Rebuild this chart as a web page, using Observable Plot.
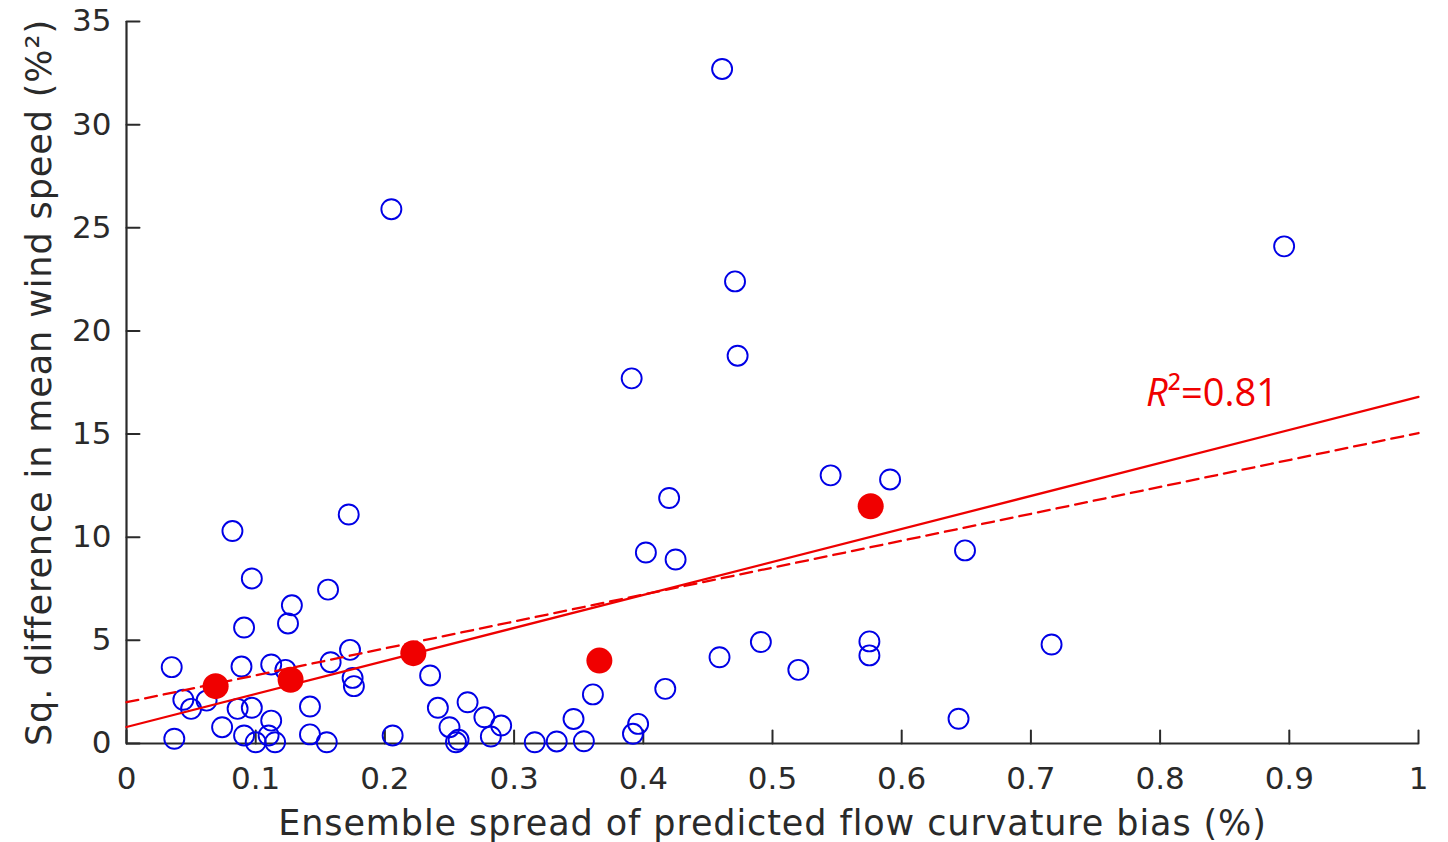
<!DOCTYPE html>
<html>
<head>
<meta charset="utf-8">
<script src="https://cdn.jsdelivr.net/npm/d3@7"></script>
<script src="https://cdn.jsdelivr.net/npm/@observablehq/plot@0.6"></script>
<style>
  html, body { margin: 0; padding: 0; background: #fff; }
  #chart { width: 1448px; height: 842px; }
  #chart g[aria-label="x-axis label"] text,
  #chart g[aria-label="y-axis label"] text { letter-spacing: 0.9px; }
</style>
</head>
<body>
<div id="chart"></div>
<script>
// ---- Data ----
// Blue open circles: individual members
const memberSpread = [
  0.461, 0.205, 0.896, 0.471, 0.473, 0.391, 0.545, 0.591, 0.420, 0.172,
  0.082, 0.649, 0.402, 0.425, 0.097, 0.156, 0.128, 0.125, 0.091, 0.491,
  0.716, 0.575, 0.173, 0.575, 0.459, 0.520, 0.035, 0.089, 0.112, 0.158,
  0.123, 0.175, 0.176, 0.235, 0.417, 0.361, 0.264, 0.044, 0.050, 0.062,
  0.086, 0.097, 0.142, 0.241, 0.112, 0.074, 0.277, 0.250, 0.290, 0.346,
  0.396, 0.392, 0.644, 0.037, 0.091, 0.100, 0.110, 0.115, 0.142, 0.155,
  0.206, 0.257, 0.255, 0.282, 0.316, 0.333, 0.354
];
const memberSqDiff = [
  32.7, 25.9, 24.1, 22.4, 18.8, 17.7, 13.0, 12.8, 11.9, 11.1,
  10.3, 9.36, 9.26, 8.92, 8.0, 7.46, 6.7, 5.82, 5.62, 4.92,
  4.80, 4.95, 4.54, 4.27, 4.18, 3.57, 3.70, 3.73, 3.83, 3.94,
  3.57, 3.18, 2.78, 3.30, 2.65, 2.38, 2.0, 2.12, 1.68, 2.08,
  1.68, 1.73, 1.79, 1.73, 1.11, 0.79, 1.27, 0.79, 0.87, 1.19,
  0.95, 0.47, 1.2, 0.23, 0.39, 0.06, 0.39, 0.06, 0.44, 0.06,
  0.39, 0.18, 0.06, 0.34, 0.06, 0.10, 0.11
];
// Red filled dots: binned means
const binSpread = [0.069, 0.127, 0.222, 0.366, 0.576];
const binSqDiff = [2.78, 3.09, 4.38, 4.02, 11.5];
// Regression lines (end points)
const fitX = [0, 1];
const fitSolidY = [0.8, 16.8];
const fitDashedY = [2.0, 15.05];
// Annotation
const r2Symbol = "R";
const r2Rest = "\u00B2=0.81";
const r2At = {x: 0.806, y: 16.95};
// Ticks
const xTicks = [0, 0.1, 0.2, 0.3, 0.4, 0.5, 0.6, 0.7, 0.8, 0.9, 1];
const yTicks = [0, 5, 10, 15, 20, 25, 30, 35];
const xTickLabels = ["0", "0.1", "0.2", "0.3", "0.4", "0.5", "0.6", "0.7", "0.8", "0.9", "1"];
const xLabel = "Ensemble spread of predicted flow curvature bias (%)";
const yLabel = "Sq. difference in mean wind speed (%\u00B2)";

// ---- Tables built from the arrays ----
const members = memberSpread.map((x, i) => ({x, y: memberSqDiff[i]}));
const bins = binSpread.map((x, i) => ({x, y: binSqDiff[i]}));
const fitSolid = fitX.map((x, i) => ({x, y: fitSolidY[i]}));
const fitDashed = fitX.map((x, i) => ({x, y: fitDashedY[i]}));

const axisColor = "#2a2a2a";
const tickShape = {
  draw(context, l) { context.moveTo(0, 0); context.lineTo(0, -l); }
};

const chart = Plot.plot({
  width: 1448,
  height: 842,
  marginLeft: 126,
  marginRight: 30,
  marginTop: 21,
  marginBottom: 99,
  style: {fontFamily: "DejaVu Sans", fontSize: "31px", color: axisColor, background: "#fff"},
  x: {domain: [0, 1]},
  y: {domain: [0, 35]},
  marks: [
    Plot.axisX({
      ticks: xTicks, tickSize: 0, tickPadding: 23,
      tickFormat: (d) => xTickLabels[xTicks.indexOf(d)],
      label: null, fontSize: 31, color: axisColor
    }),
    Plot.axisX({
      ticks: [], tickSize: 0,
      label: xLabel, labelAnchor: "center", labelArrow: "none", labelOffset: 91,
      fontSize: 35, color: axisColor
    }),
    Plot.axisY({
      ticks: yTicks, tickSize: 0, tickPadding: 15,
      label: null, fontSize: 31, color: axisColor
    }),
    Plot.axisY({
      ticks: [], tickSize: 0,
      label: yLabel, labelAnchor: "center", labelArrow: "none", labelOffset: 100,
      fontSize: 35, color: axisColor
    }),
    Plot.ruleY([0], {stroke: axisColor, strokeWidth: 2.2}),
    Plot.ruleX([0], {stroke: axisColor, strokeWidth: 2.2}),
    Plot.vector(xTicks, {x: d => d, y: 0, length: 13, rotate: 0, anchor: "start", shape: tickShape, stroke: axisColor, strokeWidth: 2}),
    Plot.vector(yTicks, {x: 0, y: d => d, length: 13, rotate: 90, anchor: "start", shape: tickShape, stroke: axisColor, strokeWidth: 2}),
    Plot.dot(members, {x: "x", y: "y", r: 10, stroke: "#0000e6", strokeWidth: 1.9, fill: "none"}),
    Plot.line(fitDashed, {x: "x", y: "y", stroke: "#ee0000", strokeWidth: 2.3, strokeDasharray: "12,7"}),
    Plot.line(fitSolid, {x: "x", y: "y", stroke: "#ee0000", strokeWidth: 2.3}),
    Plot.dot(bins, {x: "x", y: "y", r: 13, fill: "#f00000", stroke: "none"}),
    Plot.text([r2At], {x: "x", y: "y", text: () => r2Symbol, textAnchor: "end", fill: "#f00000", fontSize: 38, fontStyle: "italic", fontFamily: "Open Sans", fontWeight: 500}),
    Plot.text([r2At], {x: "x", y: "y", text: () => r2Rest, textAnchor: "start", fill: "#f00000", fontSize: 38, fontFamily: "Open Sans", fontWeight: 500})
  ]
});
document.getElementById("chart").appendChild(chart);
</script>
</body>
</html>
